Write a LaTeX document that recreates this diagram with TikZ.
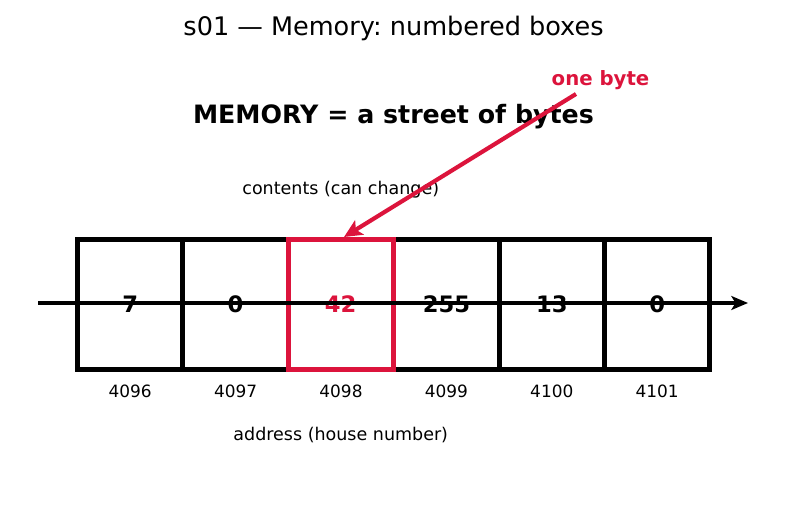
\documentclass[tikz,border=0pt]{standalone}
\usepackage{fontspec}
\setmainfont{DejaVu Sans}
\usetikzlibrary{arrows.meta}
\definecolor{crim}{HTML}{DC143C}
\frenchspacing
\begin{document}
\begin{tikzpicture}[x=0.72pt,y=-0.72pt,
  cell/.style={draw=black,line width=3.6pt,minimum width=75.96pt,minimum height=93.6pt,inner sep=0pt,font=\fontsize{16.3}{19}\selectfont\bfseries},
  addr/.style={font=\fontsize{12.2}{14}\selectfont},
  lbl/.style={font=\fontsize{12.6}{15}\selectfont}]
\useasboundingbox (0,0) rectangle (787,512);
\node (title) at (393.5,28) {\fontsize{18.4}{21}\selectfont s01 — Memory: numbered boxes};
\node (head) at (393.5,117) {\fontsize{18.2}{21}\selectfont\bfseries MEMORY = a street of bytes};
\node[lbl] (contents) at (340.75,190) {contents (can change)};
\node[lbl] (address) at (340.75,435.5) {address (house number)};
\foreach \i/\v/\a in {1/7/4096,2/0/4097,3/{}/4098,4/255/4099,5/13/4100,6/0/4101}{
  \node[cell] (c\i) at ({77.5+105.4*(\i-0.5)},304) {\v};
  \node[addr] (a\i) at ({77.5+105.4*(\i-0.5)},391) {\a};
}
\node[draw=crim,line width=3.6pt,minimum width=75.6pt,minimum height=93.6pt,inner sep=0pt,text=crim,font=\fontsize{16.3}{19}\selectfont\bfseries] (red) at (340.5,304) {42};
\coordinate (l0) at (38,303);
\coordinate (l1) at (748,303);
\draw[line width=2.3pt,-{Stealth[length=12pt,width=10pt,inset=3pt]}] (l0) -- (l1);
\node[text=crim,font=\fontsize{14.2}{17}\selectfont\bfseries] (ob) at (600.5,80) {one byte};
\coordinate (as) at (576,94);
\coordinate (at) at (344,237);
\draw[crim,line width=3pt,-{Stealth[length=13pt,width=12pt,inset=3pt]}] (as) -- (at);
\end{tikzpicture}
\end{document}
